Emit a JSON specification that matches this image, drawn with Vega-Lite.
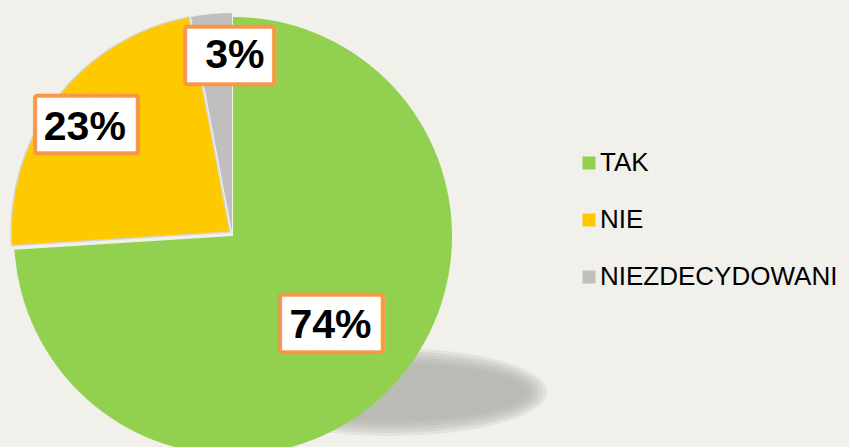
{
  "$schema": "https://vega.github.io/schema/vega-lite/v6.json",
  "width": 466,
  "height": 472,
  "padding": {"left": 0, "top": 0, "right": 20, "bottom": 0},
  "autosize": {"type": "pad"},
  "background": "#f1f0ea",
  "config": {
    "view": {"stroke": null},
    "legend": {
      "labelFont": "Liberation Sans",
      "labelFontSize": 26,
      "labelColor": "#000000",
      "labelLimit": 400,
      "symbolType": "square",
      "symbolSize": 169,
      "symbolStrokeWidth": 0,
      "symbolOpacity": 1,
      "rowPadding": 31,
      "labelOffset": -2,
      "padding": 0
    }
  },
  "data": {
    "values": [
      {"cat": "TAK", "value": 74, "label": "74%"},
      {"cat": "NIE", "value": 23, "label": "23%"},
      {"cat": "NIEZDECYDOWANI", "value": 3, "label": "3%"}
    ]
  },
  "layer": [
    {
      "data": {"values": [{"s": 1}]},
      "mark": {"type": "point", "shape": "M-1,0A1,0.278,0,1,0,1,0A1,0.278,0,1,0,-1,0Z", "filled": true, "size": 99856, "color": "#aaa9a3", "opacity": 0.18, "strokeWidth": 0, "xOffset": 156, "yOffset": 156},
      "encoding": {}
    },
    {
      "data": {"values": [{"s": 1}]},
      "mark": {"type": "point", "shape": "M-1,0A1,0.266,0,1,0,1,0A1,0.266,0,1,0,-1,0Z", "filled": true, "size": 94864, "color": "#aaa9a3", "opacity": 0.2, "strokeWidth": 0, "xOffset": 156, "yOffset": 156},
      "encoding": {}
    },
    {
      "data": {"values": [{"s": 1}]},
      "mark": {"type": "point", "shape": "M-1,0A1,0.253,0,1,0,1,0A1,0.253,0,1,0,-1,0Z", "filled": true, "size": 90000, "color": "#aaa9a3", "opacity": 0.2, "strokeWidth": 0, "xOffset": 156, "yOffset": 156},
      "encoding": {}
    },
    {
      "data": {"values": [{"s": 1}]},
      "mark": {"type": "point", "shape": "M-1,0A1,0.240,0,1,0,1,0A1,0.240,0,1,0,-1,0Z", "filled": true, "size": 85264, "color": "#aaa9a3", "opacity": 0.2, "strokeWidth": 0, "xOffset": 156, "yOffset": 156},
      "encoding": {}
    },
    {
      "data": {"values": [{"s": 1}]},
      "mark": {"type": "point", "shape": "M-1,0A1,0.225,0,1,0,1,0A1,0.225,0,1,0,-1,0Z", "filled": true, "size": 80656, "color": "#aaa9a3", "opacity": 0.2, "strokeWidth": 0, "xOffset": 156, "yOffset": 156},
      "encoding": {}
    },
    {
      "data": {"values": [{"s": 1}]},
      "mark": {"type": "point", "shape": "M-1,0A1,0.210,0,1,0,1,0A1,0.210,0,1,0,-1,0Z", "filled": true, "size": 76176, "color": "#aaa9a3", "opacity": 0.2, "strokeWidth": 0, "xOffset": 156, "yOffset": 156},
      "encoding": {}
    },
    {
      "encoding": {
        "theta": {"field": "value", "type": "quantitative", "stack": true},
        "order": {"field": "value", "type": "quantitative", "sort": "descending"},
        "detail": {"field": "cat", "type": "nominal"}
      },
      "layer": [
        {
          "mark": {"type": "arc", "radius": 219},
          "encoding": {
            "color": {"field": "cat", "type": "nominal", "scale": {"domain": ["TAK", "NIE", "NIEZDECYDOWANI"], "range": ["#92d050", "#ffc900", "#bfbfbf"]}, "legend": {"title": null, "orient": "none", "legendX": 576, "legendY": 150}},
            "opacity": {"condition": {"test": "datum.cat === 'TAK'", "value": 1}, "value": 0}
          }
        },
        {
          "mark": {"type": "arc", "radius": 219, "xOffset": -1, "yOffset": -4},
          "encoding": {
            "color": {"field": "cat", "type": "nominal", "scale": {"domain": ["TAK", "NIE", "NIEZDECYDOWANI"], "range": ["#92d050", "#ffc900", "#bfbfbf"]}, "legend": {"title": null, "orient": "none", "legendX": 576, "legendY": 150}},
            "opacity": {"condition": {"test": "datum.cat === 'NIEZDECYDOWANI'", "value": 1}, "value": 0}
          }
        },
        {
          "mark": {"type": "arc", "radius": 219, "xOffset": -3, "yOffset": -4, "stroke": "#d6d5cf", "strokeWidth": 1.5},
          "encoding": {
            "color": {"field": "cat", "type": "nominal", "scale": {"domain": ["TAK", "NIE", "NIEZDECYDOWANI"], "range": ["#92d050", "#ffc900", "#bfbfbf"]}, "legend": {"title": null, "orient": "none", "legendX": 576, "legendY": 150}},
            "opacity": {"condition": {"test": "datum.cat === 'NIE'", "value": 1}, "value": 0}
          }
        },
        {
          "mark": {"type": "text", "radius": 131, "font": "DejaVu Sans Mono", "fontSize": 45, "align": "left", "baseline": "alphabetic", "dx": -46.1, "dy": 13.4, "fill": "#f79646", "stroke": "#f79646", "strokeWidth": 8, "strokeJoin": "round"},
          "encoding": {"text": {"condition": {"test": "datum.cat === 'TAK'", "value": "███▋"}, "value": ""}}
        },
        {
          "mark": {"type": "text", "radius": 131, "font": "DejaVu Sans Mono", "fontSize": 45, "align": "left", "baseline": "alphabetic", "dx": -46.1, "dy": 13.4, "fill": "#ffffff"},
          "encoding": {"text": {"condition": {"test": "datum.cat === 'TAK'", "value": "███▋"}, "value": ""}}
        },
        {
          "mark": {"type": "text", "radius": 131, "font": "Liberation Sans", "fontWeight": "bold", "fontSize": 41, "align": "center", "baseline": "middle", "dx": 2, "dy": 0, "fill": "#000000"},
          "encoding": {"text": {"condition": {"test": "datum.cat === 'TAK'", "field": "label", "type": "nominal"}, "value": ""}}
        },
        {
          "mark": {"type": "text", "radius": 185, "font": "DejaVu Sans Mono", "fontSize": 45, "align": "left", "baseline": "alphabetic", "dx": -49.4, "dy": 17, "fill": "#f79646", "stroke": "#f79646", "strokeWidth": 8, "strokeJoin": "round"},
          "encoding": {"text": {"condition": {"test": "datum.cat === 'NIE'", "value": "███▋"}, "value": ""}}
        },
        {
          "mark": {"type": "text", "radius": 185, "font": "DejaVu Sans Mono", "fontSize": 45, "align": "left", "baseline": "alphabetic", "dx": -49.4, "dy": 17, "fill": "#ffffff"},
          "encoding": {"text": {"condition": {"test": "datum.cat === 'NIE'", "value": "███▋"}, "value": ""}}
        },
        {
          "mark": {"type": "text", "radius": 185, "font": "Liberation Sans", "fontWeight": "bold", "fontSize": 41, "align": "center", "baseline": "middle", "dx": -2, "dy": 5, "fill": "#000000"},
          "encoding": {"text": {"condition": {"test": "datum.cat === 'NIE'", "field": "label", "type": "nominal"}, "value": ""}}
        },
        {
          "mark": {"type": "text", "radius": 182, "font": "DejaVu Sans Mono", "fontSize": 45, "align": "left", "baseline": "alphabetic", "dx": -28.25, "dy": 15.8, "fill": "#f79646", "stroke": "#f79646", "strokeWidth": 8, "strokeJoin": "round"},
          "encoding": {"text": {"condition": {"test": "datum.cat === 'NIEZDECYDOWANI'", "value": "███▏"}, "value": ""}}
        },
        {
          "mark": {"type": "text", "radius": 182, "font": "DejaVu Sans Mono", "fontSize": 45, "align": "left", "baseline": "alphabetic", "dx": -28.25, "dy": 15.8, "fill": "#ffffff"},
          "encoding": {"text": {"condition": {"test": "datum.cat === 'NIEZDECYDOWANI'", "value": "███▏"}, "value": ""}}
        },
        {
          "mark": {"type": "text", "radius": 182, "font": "Liberation Sans", "fontWeight": "bold", "fontSize": 41, "align": "center", "baseline": "middle", "dx": 19, "dy": 1.5, "fill": "#000000"},
          "encoding": {"text": {"condition": {"test": "datum.cat === 'NIEZDECYDOWANI'", "field": "label", "type": "nominal"}, "value": ""}}
        }
      ]
    }
  ]
}
